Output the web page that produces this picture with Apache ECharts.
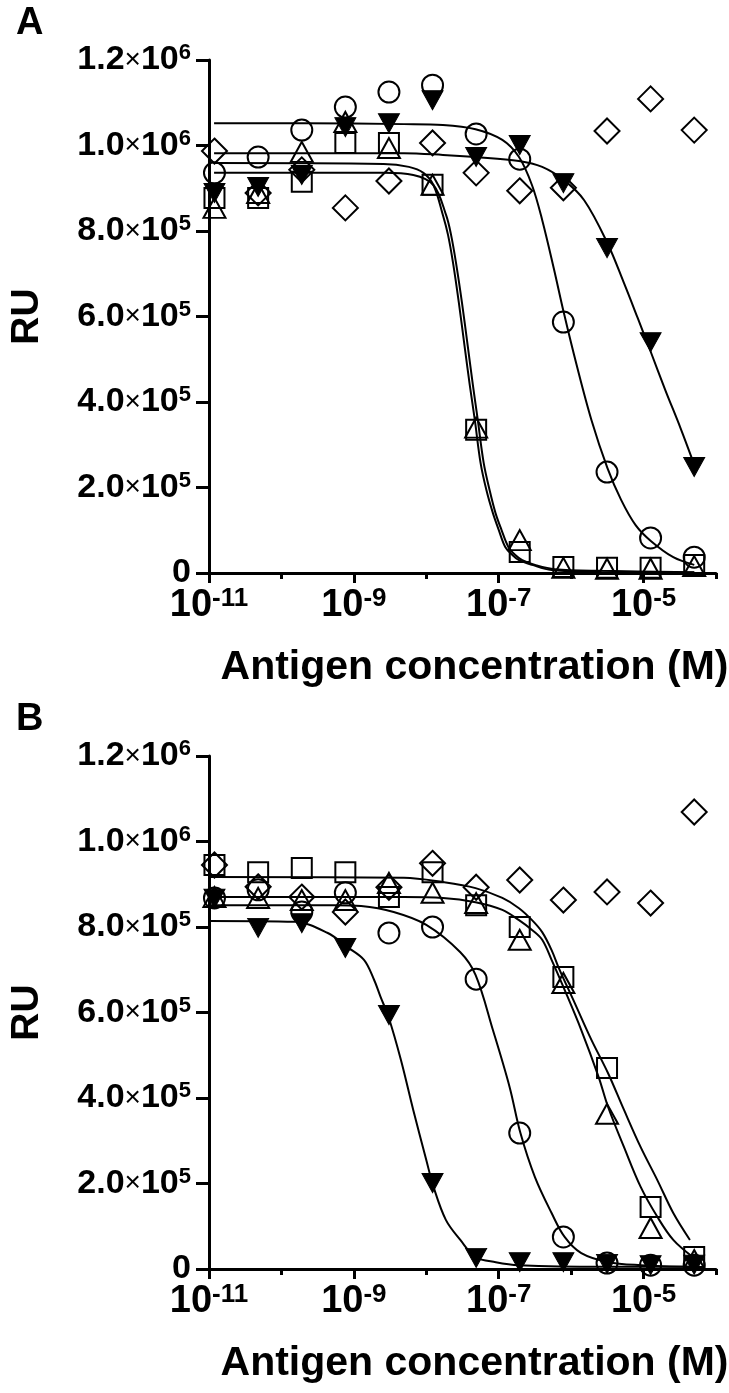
<!DOCTYPE html>
<html><head><meta charset="utf-8">
<script src="https://cdn.jsdelivr.net/npm/echarts@6/dist/echarts.min.js"></script>
<style>html,body{margin:0;padding:0;background:#fff}#c{width:729px;height:1393px}</style>
</head><body><div id="c"></div>
<script>
// Antigen concentrations (M), 4-fold dilution series
const conc = [1.19e-11, 4.77e-11, 1.91e-10, 7.63e-10, 3.05e-9, 1.22e-8, 4.88e-8, 1.95e-7, 7.81e-7, 3.13e-6, 1.25e-5, 5.0e-5];

// Panel A measured points (RU)
const aCircle  = [936e3, 973e3, 1036e3, 1090e3, 1125e3, 1141e3, 1027e3, 968e3, 587e3, 236e3, 82e3, 37e3];
const aTriDown = [889e3, 903e3, 931e3, 1043e3, 1052e3, 1106e3, 973e3, 1001e3, 912e3, 760e3, 540e3, 248e3];
const aDiamond = [987e3, 889e3, 943e3, 854e3, 917e3, 1006e3, 936e3, 894e3, 901e3, 1034e3, 1109e3, 1036e3];
const aSquare  = [877e3, 877e3, 915e3, 1006e3, 1006e3, 908e3, 335e3, 49e3, 14e3, 12e3, 12e3, 19e3];
const aTriUp   = [854e3, 889e3, 985e3, 1055e3, 994e3, 908e3, 340e3, 77e3, 12e3, 10e3, 10e3, 16e3];

// Panel B measured points (RU)
const bCircle  = [868e3, 887e3, 835e3, 880e3, 786e3, 800e3, 678e3, 318e3, 75e3, 14e3, 9e3, 9e3];
const bTriDown = [866e3, 798e3, 809e3, 751e3, 594e3, 201e3, 26e3, 16e3, 16e3, 12e3, 9e3, 10e3];
const bDiamond = [945e3, 894e3, 870e3, 835e3, 893e3, 949e3, 893e3, 910e3, 863e3, 882e3, 856e3, 1069e3];
const bSquare  = [945e3, 928e3, 938e3, 928e3, 870e3, 928e3, 851e3, 800e3, 683e3, 470e3, 145e3, 28e3];
const bTriUp   = [870e3, 868e3, 863e3, 863e3, 903e3, 880e3, 856e3, 770e3, 669e3, 363e3, 96e3, 21e3];

// Fitted curves: x as log10(M), y in RU
const aCircleFitX  = [-10.93, -9.68, -8.31, -7.77, -7.32, -6.95, -6.72, -6.54, -6.40, -6.24, -6.10, -5.925, -5.72, -5.50, -5.31, -5.11, -4.90, -4.59, -4.30];
const aCircleFitY  = [1052e3, 1052e3, 1050e3, 1048e3, 1038e3, 1013e3, 973e3, 907e3, 826e3, 713e3, 608e3, 487e3, 358e3, 246e3, 171e3, 112e3, 75e3, 37e3, 19e3];
const aTriDownFitX = [-10.93, -8.31, -7.77, -7.32, -6.72, -6.40, -6.10, -5.82, -5.50, -5.27, -5.08, -4.90, -4.70, -4.49, -4.30];
const aTriDownFitY = [982e3, 982e3, 978e3, 973e3, 964e3, 950e3, 919e3, 872e3, 772e3, 678e3, 596e3, 517e3, 428e3, 339e3, 253e3];
const aSquareFitX  = [-10.93, -8.59, -8.24, -8.04, -7.90, -7.77, -7.70, -7.63, -7.55, -7.47, -7.40, -7.33, -7.25, -7.17, -7.08, -7.00, -6.91, -6.81, -6.72, -6.54, -6.27, -5.58, -4.30];
const aSquareFitY  = [959e3, 957e3, 950e3, 936e3, 907e3, 837e3, 791e3, 725e3, 632e3, 529e3, 440e3, 358e3, 257e3, 194e3, 140e3, 101e3, 61e3, 42e3, 30e3, 19e3, 7e3, 2e3, 1e3];
const aTriUpFitX   = [-10.93, -8.59, -8.18, -7.90, -7.726, -7.658, -7.589, -7.507, -7.426, -7.357, -7.289, -7.207, -7.126, -7.044, -6.962, -6.867, -6.771, -6.675, -6.498, -6.225, -5.584, -4.30];
const aTriUpFitY   = [936e3, 936e3, 931e3, 907e3, 837e3, 791e3, 725e3, 632e3, 529e3, 440e3, 358e3, 257e3, 194e3, 140e3, 101e3, 61e3, 42e3, 30e3, 19e3, 9e3, 5e3, 2e3];

const bSquareFitX  = [-11, -8.31, -7.77, -7.32, -6.95, -6.72, -6.54, -6.40, -6.27, -6.17, -5.95, -5.72, -5.49, -5.27, -5.04, -4.81, -4.59, -4.36];
const bSquareFitY  = [917e3, 915e3, 905e3, 891e3, 868e3, 844e3, 816e3, 788e3, 746e3, 704e3, 622e3, 536e3, 458e3, 372e3, 285e3, 208e3, 131e3, 68e3];
const bTriUpFitX   = [-11, -8.31, -7.77, -7.32, -6.95, -6.72, -6.54, -6.40, -6.27, -6.09, -5.86, -5.62, -5.49, -5.27, -5.04, -4.81, -4.59, -4.32];
const bTriUpFitY   = [870e3, 870e3, 868e3, 858e3, 840e3, 816e3, 793e3, 770e3, 723e3, 653e3, 559e3, 449e3, 379e3, 285e3, 192e3, 122e3, 68e3, 28e3];
const bCircleFitX  = [-11, -9.27, -8.90, -8.45, -8.00, -7.53, -7.32, -7.08, -6.85, -6.70, -6.50, -6.27, -6.09, -5.86, -5.49, -5.04, -4.32];
const bCircleFitY  = [851e3, 851e3, 849e3, 835e3, 805e3, 741e3, 688e3, 559e3, 426e3, 318e3, 215e3, 131e3, 75e3, 37e3, 16e3, 9e3, 5e3];
const bTriDownFitX = [-11, -9.81, -9.36, -9.09, -8.86, -8.72, -8.63, -8.52, -8.35, -8.18, -8.00, -7.90, -7.73, -7.53, -7.32, -7.04, -6.72, -5.58, -4.32];
const bTriDownFitY = [814e3, 812e3, 786e3, 753e3, 723e3, 676e3, 636e3, 589e3, 489e3, 372e3, 255e3, 192e3, 115e3, 68e3, 28e3, 16e3, 9e3, 5e3, 5e3];

// Tick labels
const yTickValues = [0, 2e5, 4e5, 6e5, 8e5, 1e6, 1.2e6];
const yTickMant   = ['0', '2.0', '4.0', '6.0', '8.0', '1.0', '1.2'];
const yTickExp    = ['', '5', '5', '5', '5', '6', '6'];
const xLabelExps  = [-11, -9, -7, -5];
const panelLabels = ['A', 'B'];
const xAxisTitle  = 'Antigen concentration (M)';
const yAxisTitle  = 'RU';

const FONT = '"Liberation Sans", Arial, sans-serif';
const chart = echarts.init(document.getElementById('c'), null, {renderer: 'canvas'});

const grids = [
  {left: 203, top: 60, width: 513, height: 513},
  {left: 202, top: 756, width: 514, height: 513}
];

const xAxes = [], yAxes = [];
grids.forEach((g, gi) => {
  xAxes.push({
    type: 'log', logBase: 10, gridIndex: gi, min: 1e-11, max: 1e-4, splitNumber: 7,
    position: 'bottom',
    axisLine: {lineStyle: {color: '#000', width: 3}},
    axisTick: {show: true, length: 6, inside: false, lineStyle: {color: '#000', width: 3}},
    axisLabel: {show: false},
    splitLine: {show: false}, minorTick: {show: false}
  });
  xAxes.push({
    type: 'value', gridIndex: gi, min: -11, max: -4, interval: 2, position: 'bottom',
    axisLine: {show: false},
    axisTick: {show: true, length: 10, customValues: xLabelExps, lineStyle: {color: '#000', width: 3}},
    axisLabel: {
      show: true, margin: 13, customValues: xLabelExps,
      formatter: v => xLabelExps.indexOf(Math.round(v)) >= 0 ? '{m|10}{s|' + Math.round(v) + '}' : '',
      rich: {
        m: {fontSize: 38, fontWeight: 'bold', fontFamily: FONT, color: '#000', lineHeight: 40},
        s: {fontSize: 26, fontWeight: 'bold', fontFamily: FONT, color: '#000', lineHeight: 24, verticalAlign: 'top'}
      }
    },
    splitLine: {show: false},
    name: xAxisTitle, nameLocation: 'middle', nameGap: 74,
    nameTextStyle: {fontSize: 41, fontWeight: 'bold', fontFamily: FONT, color: '#000', padding: [0, 0, 0, 24]}
  });
  yAxes.push({
    type: 'value', gridIndex: gi, min: 0, max: 1.2e6, interval: 2e5,
    axisLine: {show: true, lineStyle: {color: '#000', width: 3}},
    axisTick: {show: true, length: 13, lineStyle: {color: '#000', width: 3}},
    splitLine: {show: false},
    axisLabel: {
      margin: 18,
      formatter: v => {
        const i = yTickValues.findIndex(t => Math.abs(t - v) < 1);
        if (i < 0) return '';
        if (yTickExp[i] === '') return '{m|' + yTickMant[i] + '}';
        return '{m|' + yTickMant[i] + '}{x|×}{m|10}{s|' + yTickExp[i] + '}';
      },
      rich: {
        m: {fontSize: 34, fontWeight: 'bold', fontFamily: FONT, color: '#000', lineHeight: 36},
        x: {fontSize: 28, fontWeight: 'normal', fontFamily: FONT, color: '#000', lineHeight: 36},
        s: {fontSize: 22, fontWeight: 'bold', fontFamily: FONT, color: '#000', lineHeight: 20, verticalAlign: 'top'}
      }
    },
    name: yAxisTitle, nameLocation: 'middle', nameGap: 162, nameRotate: 90,
    nameTextStyle: {fontSize: 39, fontWeight: 'bold', fontFamily: FONT, color: '#000'}
  });
});

const OPEN = 'rgba(0,0,0,0)';
const markers = {
  circle:  {symbol: 'circle', symbolSize: 21, symbolRotate: 0, itemStyle: {color: OPEN, borderColor: '#000', borderWidth: 2, opacity: 1}},
  triDown: {symbol: 'triangle', symbolSize: [21, 19], symbolRotate: 180, itemStyle: {color: '#000', borderColor: '#000', borderWidth: 1, opacity: 1}},
  diamond: {symbol: 'diamond', symbolSize: [25, 25], symbolRotate: 0, itemStyle: {color: OPEN, borderColor: '#000', borderWidth: 2, opacity: 1}},
  square:  {symbol: 'rect', symbolSize: 20, symbolRotate: 0, itemStyle: {color: OPEN, borderColor: '#000', borderWidth: 2, opacity: 1}},
  triUp:   {symbol: 'triangle', symbolSize: [22, 20], symbolRotate: 0, itemStyle: {color: OPEN, borderColor: '#000', borderWidth: 2, opacity: 1}}
};

function scat(gi, ys, m) {
  const mk = markers[m];
  return {
    type: 'scatter', xAxisIndex: gi * 2, yAxisIndex: gi, z: 3, silent: true,
    data: conc.map((c, i) => [c, ys[i]]),
    symbol: mk.symbol, symbolSize: mk.symbolSize, symbolRotate: mk.symbolRotate,
    itemStyle: mk.itemStyle
  };
}
function curve(gi, xs, ys) {
  return {
    type: 'line', xAxisIndex: gi * 2, yAxisIndex: gi, z: 2, silent: true,
    data: xs.map((e, i) => [Math.pow(10, e), ys[i]]),
    showSymbol: false, smooth: 0.35,
    lineStyle: {color: '#000', width: 2}
  };
}

const series = [
  curve(0, aCircleFitX, aCircleFitY),
  curve(0, aTriDownFitX, aTriDownFitY),
  curve(0, aSquareFitX, aSquareFitY),
  curve(0, aTriUpFitX, aTriUpFitY),
  scat(0, aDiamond, 'diamond'),
  scat(0, aSquare, 'square'),
  scat(0, aTriUp, 'triUp'),
  scat(0, aCircle, 'circle'),
  scat(0, aTriDown, 'triDown'),
  curve(1, bSquareFitX, bSquareFitY),
  curve(1, bTriUpFitX, bTriUpFitY),
  curve(1, bCircleFitX, bCircleFitY),
  curve(1, bTriDownFitX, bTriDownFitY),
  scat(1, bDiamond, 'diamond'),
  scat(1, bSquare, 'square'),
  scat(1, bTriUp, 'triUp'),
  scat(1, bCircle, 'circle'),
  scat(1, bTriDown, 'triDown')
];

chart.setOption({
  animation: false,
  backgroundColor: '#fff',
  title: [
    {text: panelLabels[0], left: 11, top: 0, textStyle: {fontSize: 38, fontWeight: 'bold', fontFamily: FONT, color: '#000'}},
    {text: panelLabels[1], left: 11, top: 696, textStyle: {fontSize: 38, fontWeight: 'bold', fontFamily: FONT, color: '#000'}}
  ],
  grid: grids,
  xAxis: xAxes,
  yAxis: yAxes,
  series: series
});
</script>
</body></html>
